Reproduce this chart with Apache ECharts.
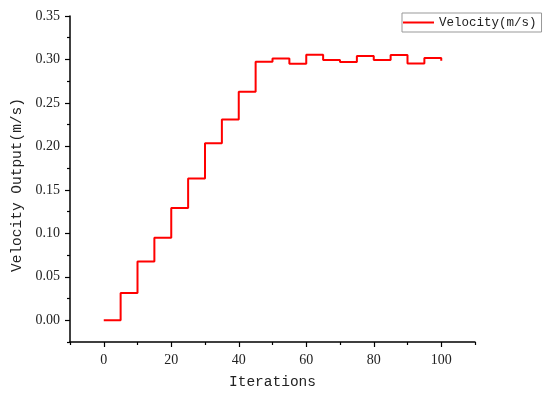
<!DOCTYPE html>
<html><head><meta charset="utf-8">
<script src="https://cdn.jsdelivr.net/npm/echarts@6/dist/echarts.min.js"></script>
<style>html,body{margin:0;padding:0;background:#fff}#c{width:550px;height:397px}</style>
</head><body><div id="c"></div>
<script>
const iterations = [0,5,10,15,20,25,30,35,40,45,50,55,60,65,70,75,80,85,90,95,100];
const velocity = [0.000,0.0315,0.0675,0.095,0.129,0.163,0.2035,0.231,0.263,0.2975,0.301,0.295,0.3055,0.2995,0.297,0.304,0.2995,0.305,0.2955,0.3018,0.2985];
const xMajorTicks = [0,20,40,60,80,100];
const xMinorTicks = [-10,10,30,50,70,90,110];
const yMajorTicks = [0,0.05,0.10,0.15,0.20,0.25,0.30,0.35];
const yMinorTicks = [-0.025,0.025,0.075,0.125,0.175,0.225,0.275,0.325];

const FONT = '"Liberation Mono", "DejaVu Sans Mono", monospace';
const SERIF = '"Liberation Serif", "DejaVu Serif", serif';
const chart = echarts.init(document.getElementById('c'), null, {renderer:'canvas'});
const axisCommonX = {type:'value', min:-10, max:110, position:'bottom'};
const axisCommonY = {type:'value', min:-0.025, max:0.35, position:'left'};
chart.setOption({
  animation:false,
  grid:{left:70, top:16, right:75, bottom:55, containLabel:false, outerBoundsMode:'none'},
  legend:{
    show:true, left:402, top:13, orient:'horizontal',
    data:['Velocity(m/s)'],
    itemWidth:31, itemHeight:2, itemGap:6, padding:[3,5,3,1],
    borderColor:'#999', borderWidth:1, borderRadius:0,
    textStyle:{fontFamily:FONT, fontSize:12.5, color:'#222'},
    icon:'rect'
  },
  xAxis:[
    Object.assign({}, axisCommonX, {
      name:'Iterations', nameLocation:'middle', nameGap:33,
      nameTextStyle:{fontFamily:FONT, fontSize:14.5, color:'#222'},
      axisLine:{show:true, onZero:false, lineStyle:{color:'#000', width:1.5}},
      axisTick:{show:true, inside:false, length:5, lineStyle:{color:'#000', width:1.2}, customValues:xMajorTicks},
      axisLabel:{show:true, margin:11, fontFamily:SERIF, fontSize:14, color:'#222', customValues:xMajorTicks},
      splitLine:{show:false}
    }),
    Object.assign({}, axisCommonX, {
      axisLine:{show:false, onZero:false},
      axisTick:{show:true, inside:false, length:3, lineStyle:{color:'#000', width:1.2}, customValues:xMinorTicks},
      axisLabel:{show:false},
      splitLine:{show:false}
    })
  ],
  yAxis:[
    Object.assign({}, axisCommonY, {
      name:'Velocity Output(m/s)', nameLocation:'middle', nameGap:44, nameRotate:90,
      nameTextStyle:{fontFamily:FONT, fontSize:14.5, color:'#222', padding:[0,0,0,-12]},
      axisLine:{show:true, onZero:false, lineStyle:{color:'#000', width:1.5}},
      axisTick:{show:true, inside:false, length:5, lineStyle:{color:'#000', width:1.2}, customValues:yMajorTicks},
      axisLabel:{show:true, margin:10, fontFamily:SERIF, fontSize:14, color:'#222', customValues:yMajorTicks,
        formatter:function(v){return v.toFixed(2);}},
      splitLine:{show:false}
    }),
    Object.assign({}, axisCommonY, {
      axisLine:{show:false, onZero:false},
      axisTick:{show:true, inside:false, length:3, lineStyle:{color:'#000', width:1.2}, customValues:yMinorTicks},
      axisLabel:{show:false},
      splitLine:{show:false}
    })
  ],
  series:[{
    name:'Velocity(m/s)', type:'line', step:'end',
    xAxisIndex:0, yAxisIndex:0,
    data: iterations.map((x,i)=>[x, velocity[i]]),
    showSymbol:false, symbol:'none',
    lineStyle:{color:'#ff0000', width:2},
    itemStyle:{color:'#ff0000'}
  }]
});
</script></body></html>
